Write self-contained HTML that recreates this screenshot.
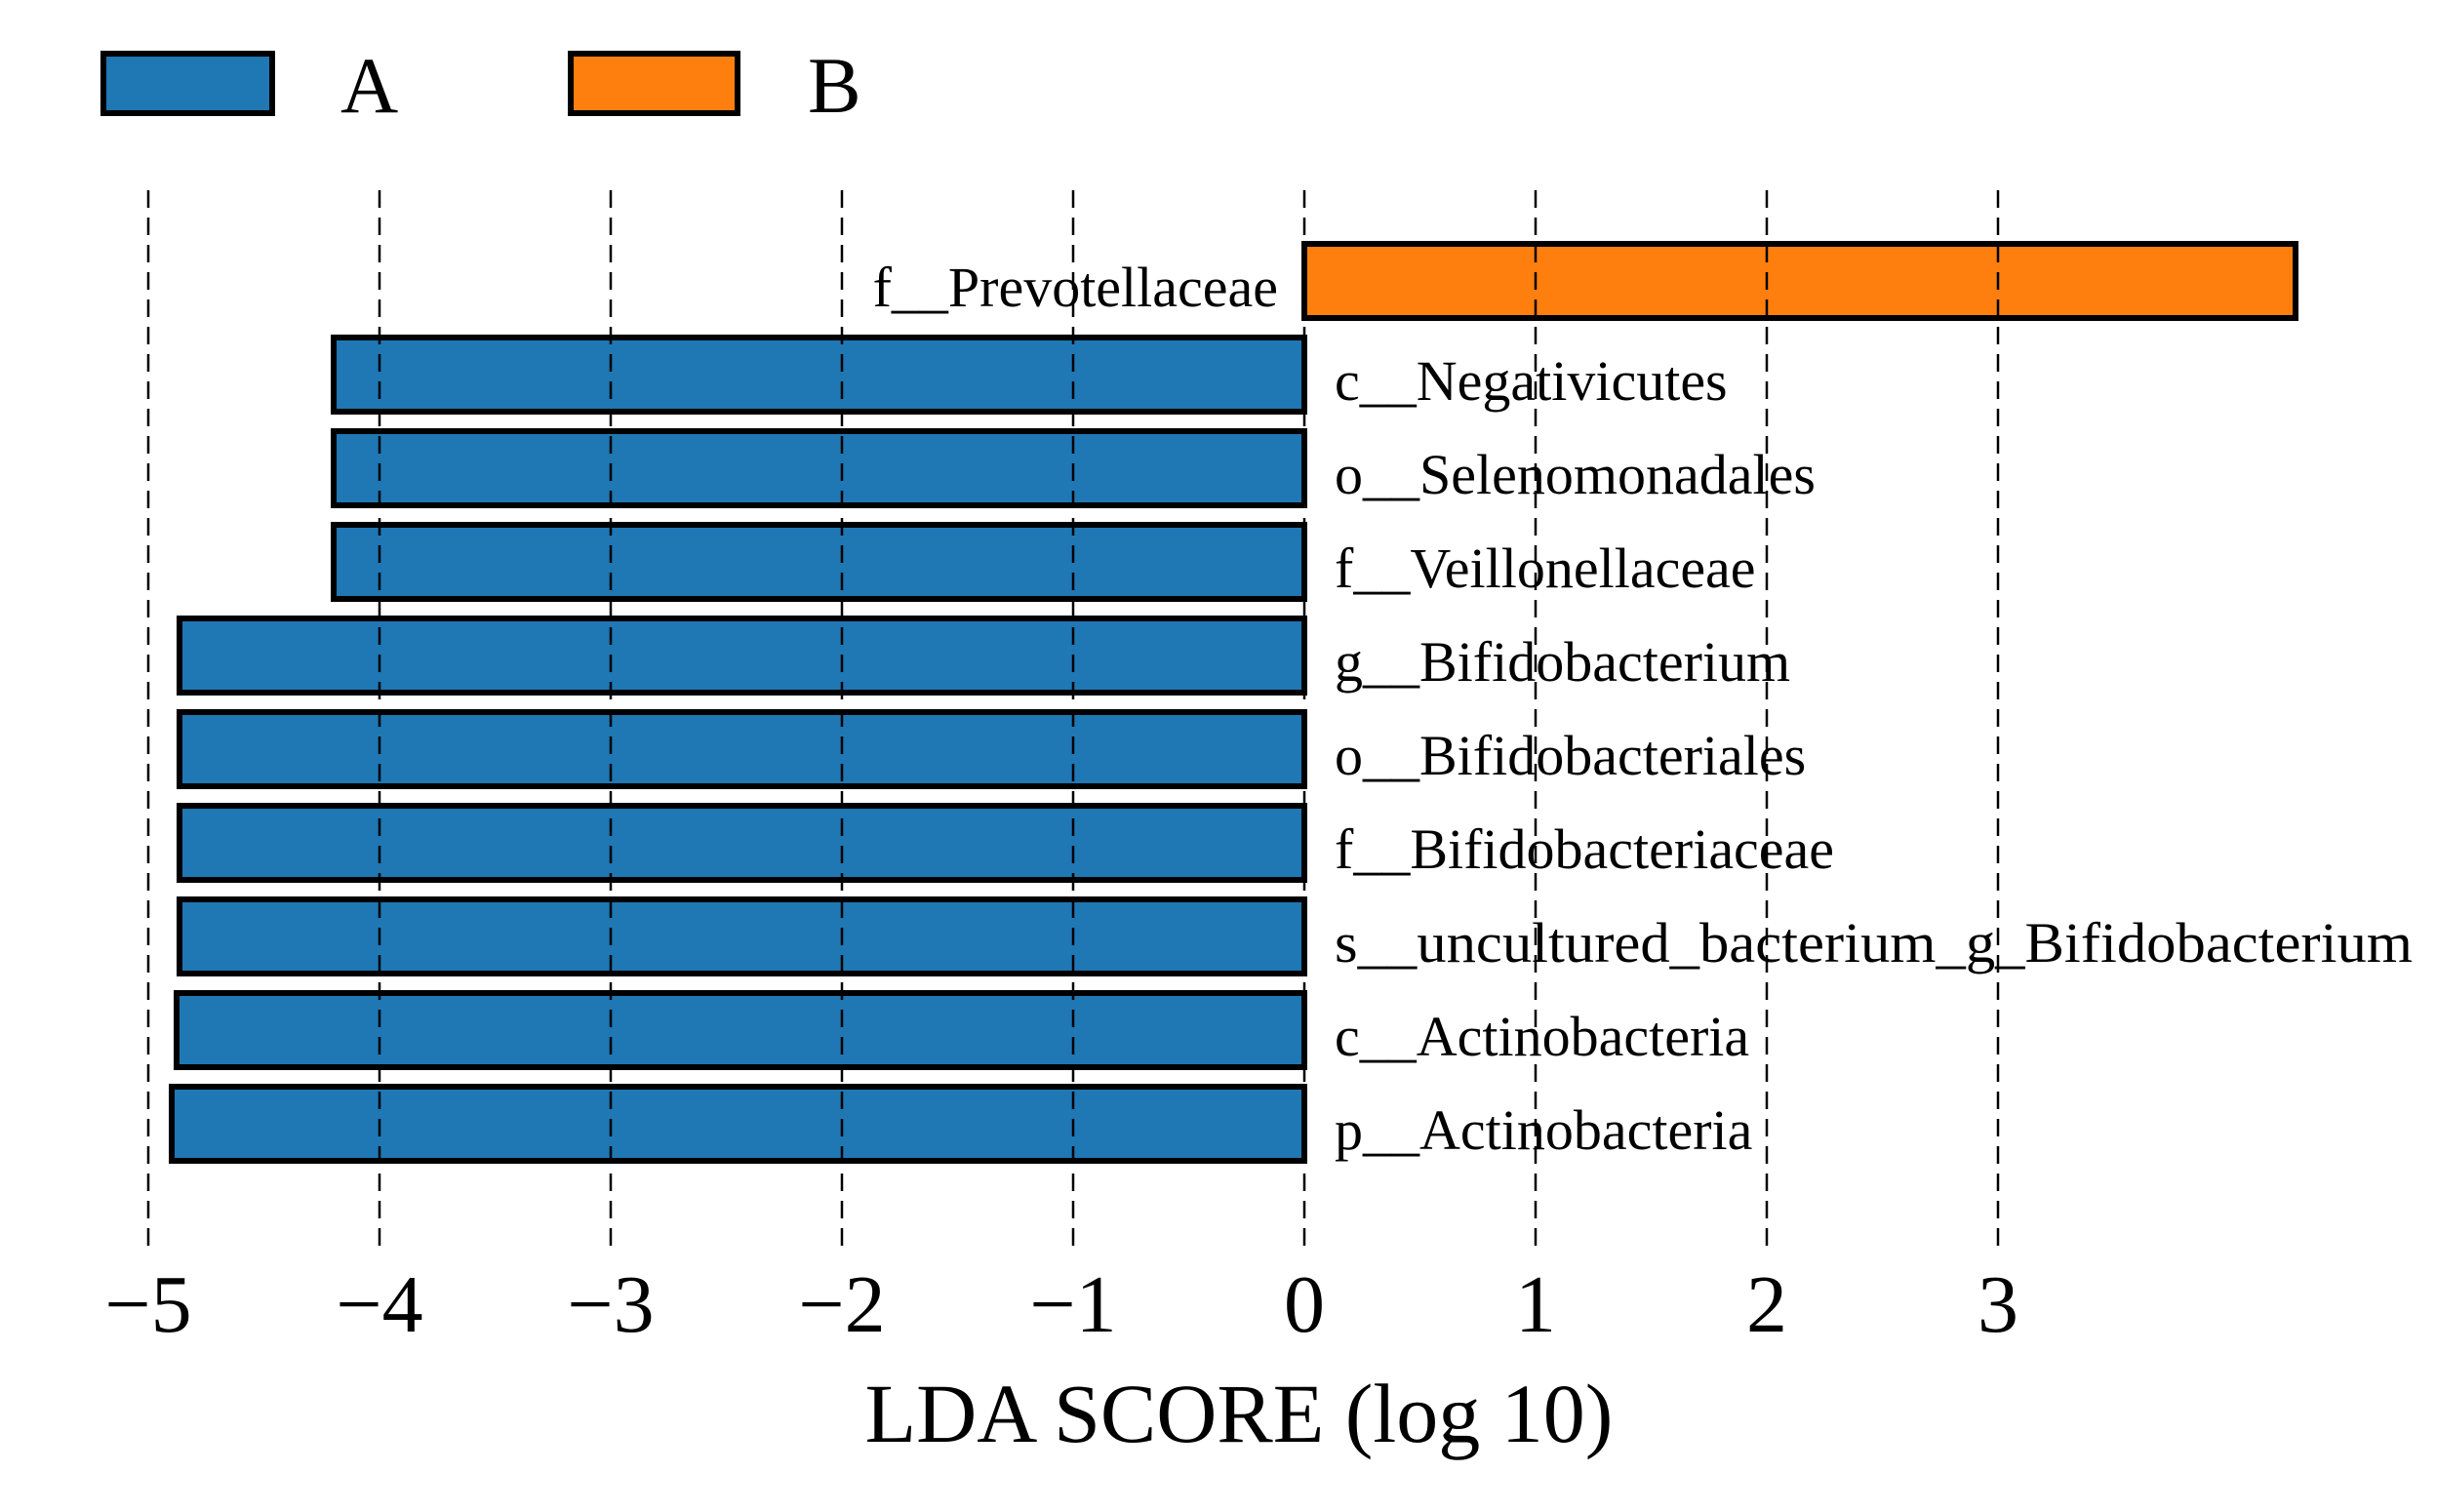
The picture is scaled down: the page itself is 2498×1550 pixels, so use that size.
<!DOCTYPE html>
<html><head><meta charset="utf-8"><style>html,body{margin:0;padding:0;background:#fff}</style></head>
<body>
<svg width="2498" height="1545" xmlns="http://www.w3.org/2000/svg" font-family="'Liberation Serif', serif">
<rect width="2498" height="1545" fill="#fff"/>
<!-- legend -->
<rect x="106" y="55" width="173" height="61" fill="#1f77b4" stroke="#000" stroke-width="6"/>
<text x="349" y="115" font-size="82">A</text>
<rect x="585" y="55" width="171" height="61" fill="#ff7f0e" stroke="#000" stroke-width="6"/>
<text x="828" y="115" font-size="82">B</text>
<!-- bars -->
<g stroke="#000" stroke-width="6">
<rect x="1337" y="250" width="1016" height="76" fill="#ff7f0e"/>
<rect x="342" y="346" width="995" height="76" fill="#1f77b4"/>
<rect x="342" y="442" width="995" height="76" fill="#1f77b4"/>
<rect x="342" y="538" width="995" height="76" fill="#1f77b4"/>
<rect x="184" y="634" width="1153" height="76" fill="#1f77b4"/>
<rect x="184" y="730" width="1153" height="76" fill="#1f77b4"/>
<rect x="184" y="826" width="1153" height="76" fill="#1f77b4"/>
<rect x="184" y="922" width="1153" height="76" fill="#1f77b4"/>
<rect x="181" y="1018" width="1156" height="76" fill="#1f77b4"/>
<rect x="176" y="1114" width="1161" height="76" fill="#1f77b4"/>
</g>
<!-- grid -->
<g stroke="#000" stroke-width="2.5" stroke-dasharray="18,10">
<line x1="152" y1="195" x2="152" y2="1280"/>
<line x1="389" y1="195" x2="389" y2="1280"/>
<line x1="626" y1="195" x2="626" y2="1280"/>
<line x1="863" y1="195" x2="863" y2="1280"/>
<line x1="1100" y1="195" x2="1100" y2="1280"/>
<line x1="1337" y1="195" x2="1337" y2="1280"/>
<line x1="1574" y1="195" x2="1574" y2="1280"/>
<line x1="1811" y1="195" x2="1811" y2="1280"/>
<line x1="2048" y1="195" x2="2048" y2="1280"/>
</g>
<!-- labels -->
<g font-size="58">
<text x="1310" y="314" text-anchor="end">f__Prevotellaceae</text>
<text x="1368" y="410">c__Negativicutes</text>
<text x="1368" y="506">o__Selenomonadales</text>
<text x="1368" y="602">f__Veillonellaceae</text>
<text x="1368" y="698">g__Bifidobacterium</text>
<text x="1368" y="794">o__Bifidobacteriales</text>
<text x="1368" y="890">f__Bifidobacteriaceae</text>
<text x="1368" y="986" textLength="1105" lengthAdjust="spacingAndGlyphs">s__uncultured_bacterium_g_Bifidobacterium</text>
<text x="1368" y="1082">c__Actinobacteria</text>
<text x="1368" y="1178">p__Actinobacteria</text>
</g>
<g font-size="84" text-anchor="middle">
<text x="152" y="1365">−5</text>
<text x="389" y="1365">−4</text>
<text x="626" y="1365">−3</text>
<text x="863" y="1365">−2</text>
<text x="1100" y="1365">−1</text>
<text x="1337" y="1365">0</text>
<text x="1574" y="1365">1</text>
<text x="1811" y="1365">2</text>
<text x="2048" y="1365">3</text>
</g>
<text x="1270" y="1478" font-size="86" text-anchor="middle">LDA SCORE (log 10)</text>
</svg>
</body></html>
